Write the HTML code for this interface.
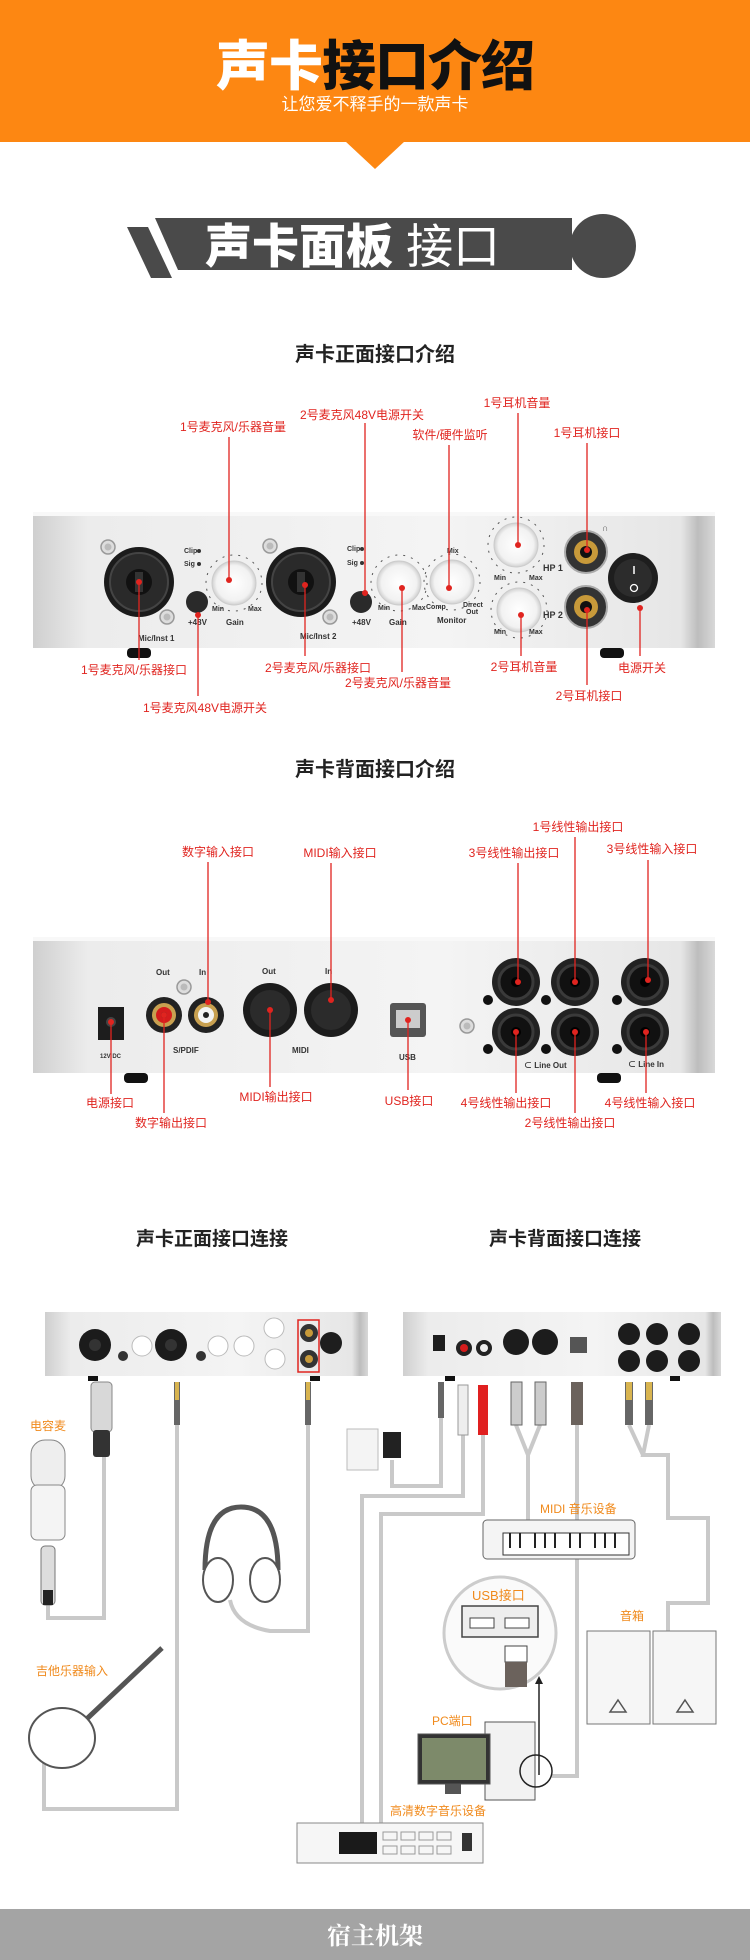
<!DOCTYPE html>
<html><head><meta charset="utf-8">
<style>
html,body{margin:0;padding:0;background:#fff;}
svg{display:block;}
text{font-family:"Liberation Sans","Noto Sans CJK SC",sans-serif;}
.r{fill:#e0241f;font-size:12px;}
.o{fill:#f08a1c;font-size:12px;}
.s{fill:#333;font-size:7px;font-weight:bold;}
.l{stroke:#e0241f;stroke-width:1.3;}
.c{stroke:#c9c9c9;stroke-width:4;fill:none;}
</style></head><body>
<svg width="750" height="1960" viewBox="0 0 750 1960" xmlns="http://www.w3.org/2000/svg">
<defs>
<linearGradient id="body" x1="0" y1="0" x2="1" y2="0">
<stop offset="0" stop-color="#cfcfcf"/><stop offset="0.08" stop-color="#ececec"/><stop offset="0.6" stop-color="#f4f4f4"/><stop offset="0.95" stop-color="#e6e6e6"/><stop offset="0.975" stop-color="#bdbdbd"/><stop offset="1" stop-color="#d8d8d8"/>
</linearGradient>
<radialGradient id="knob"><stop offset="0" stop-color="#fff"/><stop offset="0.8" stop-color="#f2f2f2"/><stop offset="1" stop-color="#d0d0d0"/></radialGradient>
<g id="xlr"><circle r="35" fill="#1b1b1b"/><circle r="29" fill="#2a2a2a" stroke="#444" stroke-width="2"/><circle r="13" fill="#111"/><rect x="-4" y="-10" width="8" height="20" fill="#333"/></g>
<g id="knb"><circle r="28" fill="none" stroke="#555" stroke-width="1" stroke-dasharray="2 6"/><circle r="22" fill="url(#knob)" stroke="#ccc"/></g>
<g id="scr"><circle r="7" fill="#ddd" stroke="#999" stroke-width="1.5"/><circle r="3.5" fill="#bbb"/></g>
<g id="jk"><circle r="24" fill="#222"/><circle r="17" fill="#111" stroke="#3a3a3a" stroke-width="3"/><circle r="5" fill="#000"/></g>
<g id="hpj"><circle r="21" fill="#333" stroke="#aaa" stroke-width="2"/><circle r="12" fill="#c89a3a"/><circle r="6" fill="#111"/></g>
</defs>

<!-- Header -->
<rect x="0" y="0" width="750" height="142" fill="#fd8712"/>
<polygon points="345,141 405,141 375,169" fill="#fd8712"/>
<text x="375" y="85" text-anchor="middle" style="font-size:54px;font-weight:900;letter-spacing:-1px"><tspan fill="#fff">声卡</tspan><tspan fill="#111">接口介绍</tspan></text>
<text x="375" y="110" text-anchor="middle" fill="#fff" style="font-size:17px">让您爱不释手的一款声卡</text>

<!-- Banner -->
<polygon points="127,227 148,227 172,278 151,278" fill="#4a4a4a"/>
<polygon points="155,218 572,218 572,270 178,270" fill="#4a4a4a"/>
<ellipse cx="603" cy="246" rx="33" ry="32" fill="#4a4a4a"/>
<text x="205" y="263" fill="#fff" style="font-size:47px;font-weight:900">声卡面板 <tspan style="font-weight:400">接口</tspan></text>

<text x="375" y="361" text-anchor="middle" fill="#222" style="font-size:20px;font-weight:bold">声卡正面接口介绍</text>

<!-- Front device -->
<rect x="33" y="512" width="682" height="136" fill="url(#body)"/>
<rect x="33" y="512" width="682" height="4" fill="#f8f8f8"/>
<rect x="127" y="648" width="24" height="10" rx="4" fill="#111"/>
<rect x="600" y="648" width="24" height="10" rx="4" fill="#111"/>
<use href="#xlr" x="139" y="582"/><use href="#scr" x="108" y="547"/><use href="#scr" x="167" y="617"/>
<text class="s" x="184" y="553">Clip</text><text class="s" x="184" y="566">Sig</text>
<circle cx="199" cy="551" r="2" fill="#333"/><circle cx="199" cy="564" r="2" fill="#333"/>
<use href="#knb" x="234" y="583"/>
<circle cx="197" cy="602" r="11" fill="#2a2a2a"/>
<text class="s" x="188" y="625" style="font-size:8px">+48V</text><text class="s" x="226" y="625" style="font-size:8px">Gain</text>
<text class="s" x="212" y="611">Min</text><text class="s" x="248" y="611">Max</text>
<text class="s" x="138" y="641" style="font-size:8px">Mic/Inst 1</text>
<use href="#xlr" x="301" y="582"/><use href="#scr" x="270" y="546"/><use href="#scr" x="330" y="617"/>
<text class="s" x="347" y="551">Clip</text><text class="s" x="347" y="565">Sig</text>
<circle cx="362" cy="549" r="2" fill="#333"/><circle cx="362" cy="563" r="2" fill="#333"/>
<circle cx="361" cy="602" r="11" fill="#2a2a2a"/>
<text class="s" x="352" y="625" style="font-size:8px">+48V</text>
<use href="#knb" x="399" y="583"/><use href="#knb" x="452" y="582"/>
<text class="s" x="389" y="625" style="font-size:8px">Gain</text><text class="s" x="437" y="623" style="font-size:8px">Monitor</text>
<text class="s" x="378" y="610">Min</text><text class="s" x="412" y="610">Max</text><text class="s" x="426" y="609">Comp</text>
<text class="s" x="447" y="553">Mix</text><text class="s" x="463" y="607">Direct</text><text class="s" x="466" y="614">Out</text>
<text class="s" x="300" y="639" style="font-size:8px">Mic/Inst 2</text>
<use href="#knb" x="516" y="545"/><use href="#knb" x="519" y="610"/>
<text class="s" x="543" y="571" style="font-size:9px">HP 1</text><text class="s" x="543" y="618" style="font-size:9px">HP 2</text>
<text class="s" x="494" y="580">Min</text><text class="s" x="529" y="580">Max</text><text class="s" x="494" y="634">Min</text><text class="s" x="529" y="634">Max</text>
<use href="#hpj" x="586" y="552"/><use href="#hpj" x="586" y="607"/>
<text x="602" y="531" fill="#555" style="font-size:9px">∩</text>
<circle cx="633" cy="578" r="25" fill="#1e1e1e"/><circle cx="633" cy="578" r="19" fill="#2c2c2c"/>
<line x1="634" y1="566" x2="634" y2="574" stroke="#fff" stroke-width="1.5"/><circle cx="634" cy="588" r="3.5" fill="none" stroke="#fff" stroke-width="1.3"/>

<!-- front labels -->
<g class="l">
<line x1="229" y1="437" x2="229" y2="580"/><line x1="365" y1="423" x2="365" y2="596"/><line x1="449" y1="445" x2="449" y2="588"/>
<line x1="518" y1="413" x2="518" y2="545"/><line x1="587" y1="443" x2="587" y2="550"/>
<line x1="139" y1="582" x2="139" y2="660"/><line x1="198" y1="615" x2="198" y2="696"/><line x1="305" y1="585" x2="305" y2="656"/>
<line x1="402" y1="588" x2="402" y2="672"/><line x1="521" y1="615" x2="521" y2="656"/><line x1="587" y1="610" x2="587" y2="685"/><line x1="640" y1="608" x2="640" y2="656"/>
</g>
<g fill="#e0241f"><circle cx="229" cy="580" r="3"/><circle cx="365" cy="593" r="3"/><circle cx="449" cy="588" r="3"/><circle cx="518" cy="545" r="3"/><circle cx="587" cy="550" r="3"/><circle cx="139" cy="582" r="3"/><circle cx="198" cy="615" r="3"/><circle cx="305" cy="585" r="3"/><circle cx="402" cy="588" r="3"/><circle cx="521" cy="615" r="3"/><circle cx="587" cy="610" r="3"/><circle cx="640" cy="608" r="3"/></g>
<text class="r" x="233" y="431" text-anchor="middle">1号麦克风/乐器音量</text>
<text class="r" x="362" y="419" text-anchor="middle">2号麦克风48V电源开关</text>
<text class="r" x="450" y="439" text-anchor="middle">软件/硬件监听</text>
<text class="r" x="517" y="407" text-anchor="middle">1号耳机音量</text>
<text class="r" x="587" y="437" text-anchor="middle">1号耳机接口</text>
<text class="r" x="134" y="674" text-anchor="middle">1号麦克风/乐器接口</text>
<text class="r" x="205" y="712" text-anchor="middle">1号麦克风48V电源开关</text>
<text class="r" x="318" y="672" text-anchor="middle">2号麦克风/乐器接口</text>
<text class="r" x="398" y="687" text-anchor="middle">2号麦克风/乐器音量</text>
<text class="r" x="524" y="671" text-anchor="middle">2号耳机音量</text>
<text class="r" x="589" y="700" text-anchor="middle">2号耳机接口</text>
<text class="r" x="642" y="672" text-anchor="middle">电源开关</text>

<text x="375" y="776" text-anchor="middle" fill="#222" style="font-size:20px;font-weight:bold">声卡背面接口介绍</text>

<!-- Back device -->
<rect x="33" y="937" width="682" height="136" fill="url(#body)"/>
<rect x="33" y="937" width="682" height="4" fill="#f8f8f8"/>
<rect x="124" y="1073" width="24" height="10" rx="4" fill="#111"/>
<rect x="597" y="1073" width="24" height="10" rx="4" fill="#111"/>
<rect x="98" y="1007" width="26" height="33" fill="#1d1d1d"/><circle cx="111" cy="1022" r="5" fill="#444"/>
<text class="s" x="100" y="1058" style="font-size:6px">12V DC</text>
<circle cx="164" cy="1015" r="18" fill="#222"/><circle cx="164" cy="1015" r="12" fill="#c8a050"/><circle cx="164" cy="1015" r="8" fill="#d51c1c"/><circle cx="164" cy="1015" r="3" fill="#222"/>
<circle cx="206" cy="1015" r="18" fill="#222"/><circle cx="206" cy="1015" r="12" fill="#c8a050"/><circle cx="206" cy="1015" r="8" fill="#f4f4f4"/><circle cx="206" cy="1015" r="3" fill="#222"/>
<use href="#scr" x="184" y="987"/>
<text class="s" x="156" y="975" style="font-size:8px">Out</text><text class="s" x="199" y="975" style="font-size:8px">In</text>
<text class="s" x="173" y="1053" style="font-size:8px">S/PDIF</text>
<circle cx="270" cy="1010" r="27" fill="#1c1c1c"/><circle cx="270" cy="1010" r="20" fill="#2b2b2b"/>
<circle cx="331" cy="1010" r="27" fill="#1c1c1c"/><circle cx="331" cy="1010" r="20" fill="#2b2b2b"/>
<text class="s" x="262" y="974" style="font-size:8px">Out</text><text class="s" x="325" y="974" style="font-size:8px">In</text>
<text class="s" x="292" y="1053" style="font-size:8px">MIDI</text>
<rect x="390" y="1003" width="36" height="34" rx="3" fill="#555"/><rect x="396" y="1010" width="24" height="18" fill="#ccc"/>
<text class="s" x="399" y="1060" style="font-size:8px">USB</text>
<use href="#scr" x="467" y="1026"/>
<use href="#jk" x="516" y="982"/><use href="#jk" x="575" y="982"/><use href="#jk" x="645" y="982"/>
<use href="#jk" x="516" y="1032"/><use href="#jk" x="575" y="1032"/><use href="#jk" x="645" y="1032"/>
<g fill="#111"><circle cx="488" cy="1000" r="5"/><circle cx="546" cy="1000" r="5"/><circle cx="617" cy="1000" r="5"/><circle cx="488" cy="1049" r="5"/><circle cx="546" cy="1049" r="5"/><circle cx="617" cy="1049" r="5"/></g>
<text class="s" x="524" y="1068" style="font-size:8px">⊂ Line Out</text><text class="s" x="628" y="1067" style="font-size:8px">⊂ Line In</text>

<g class="l">
<line x1="208" y1="862" x2="208" y2="1002"/><line x1="331" y1="863" x2="331" y2="1000"/><line x1="575" y1="837" x2="575" y2="982"/>
<line x1="518" y1="863" x2="518" y2="982"/><line x1="648" y1="860" x2="648" y2="980"/>
<line x1="111" y1="1022" x2="111" y2="1094"/><line x1="164" y1="1015" x2="164" y2="1113"/><line x1="270" y1="1010" x2="270" y2="1087"/>
<line x1="408" y1="1020" x2="408" y2="1090"/><line x1="516" y1="1032" x2="516" y2="1093"/><line x1="575" y1="1032" x2="575" y2="1113"/><line x1="646" y1="1032" x2="646" y2="1093"/>
</g>
<g fill="#e0241f"><circle cx="208" cy="1002" r="3"/><circle cx="331" cy="1000" r="3"/><circle cx="575" cy="982" r="3"/><circle cx="518" cy="982" r="3"/><circle cx="648" cy="980" r="3"/><circle cx="111" cy="1022" r="3"/><circle cx="164" cy="1015" r="3"/><circle cx="270" cy="1010" r="3"/><circle cx="408" cy="1020" r="3"/><circle cx="516" cy="1032" r="3"/><circle cx="575" cy="1032" r="3"/><circle cx="646" cy="1032" r="3"/></g>
<text class="r" x="218" y="856" text-anchor="middle">数字输入接口</text>
<text class="r" x="340" y="857" text-anchor="middle">MIDI输入接口</text>
<text class="r" x="578" y="831" text-anchor="middle">1号线性输出接口</text>
<text class="r" x="514" y="857" text-anchor="middle">3号线性输出接口</text>
<text class="r" x="652" y="853" text-anchor="middle">3号线性输入接口</text>
<text class="r" x="110" y="1107" text-anchor="middle">电源接口</text>
<text class="r" x="171" y="1127" text-anchor="middle">数字输出接口</text>
<text class="r" x="276" y="1101" text-anchor="middle">MIDI输出接口</text>
<text class="r" x="409" y="1105" text-anchor="middle">USB接口</text>
<text class="r" x="506" y="1107" text-anchor="middle">4号线性输出接口</text>
<text class="r" x="570" y="1127" text-anchor="middle">2号线性输出接口</text>
<text class="r" x="650" y="1107" text-anchor="middle">4号线性输入接口</text>

<!-- Connection section -->
<text x="212" y="1245" text-anchor="middle" fill="#222" style="font-size:19px;font-weight:bold">声卡正面接口连接</text>
<text x="565" y="1245" text-anchor="middle" fill="#222" style="font-size:19px;font-weight:bold">声卡背面接口连接</text>

<!-- cables -->
<path class="c" d="M48,1605 V1618 H104 V1457"/>
<path class="c" d="M177,1425 V1809 H44 V1760"/>
<path class="c" d="M308,1425 V1631 H270 Q235,1625 230,1600"/>
<path class="c" d="M441,1418 V1486 H392 V1460"/>
<path class="c" d="M463,1435 V1496 H362 V1823"/>
<path class="c" d="M483,1435 V1514 H381 V1823"/>
<path class="c" d="M516,1425 L528,1455 V1520 M540,1425 L528,1455"/>
<path class="c" d="M577,1425 V1776 H552"/>
<path class="c" d="M629,1425 L643,1455 M649,1425 L643,1455 H668 V1518 H708 V1603 H668 V1631"/>

<!-- small front device -->
<rect x="45" y="1312" width="323" height="64" fill="url(#body)"/>
<circle cx="95" cy="1345" r="16" fill="#1b1b1b"/><circle cx="95" cy="1345" r="6" fill="#333"/>
<circle cx="171" cy="1345" r="16" fill="#1b1b1b"/><circle cx="171" cy="1345" r="6" fill="#333"/>
<circle cx="123" cy="1356" r="5" fill="#333"/><circle cx="201" cy="1356" r="5" fill="#333"/>
<circle cx="142" cy="1346" r="10" fill="#fff" stroke="#bbb"/><circle cx="218" cy="1346" r="10" fill="#fff" stroke="#bbb"/><circle cx="244" cy="1346" r="10" fill="#fff" stroke="#bbb"/>
<circle cx="274" cy="1328" r="10" fill="#fff" stroke="#bbb"/><circle cx="275" cy="1359" r="10" fill="#fff" stroke="#bbb"/>
<circle cx="309" cy="1333" r="9" fill="#333"/><circle cx="309" cy="1359" r="9" fill="#333"/><circle cx="309" cy="1333" r="4" fill="#c89a3a"/><circle cx="309" cy="1359" r="4" fill="#c89a3a"/>
<rect x="298" y="1320" width="21" height="52" fill="none" stroke="#e0241f" stroke-width="1.5"/>
<circle cx="331" cy="1343" r="11" fill="#1e1e1e"/>
<rect x="88" y="1376" width="10" height="5" fill="#111"/><rect x="310" y="1376" width="10" height="5" fill="#111"/>
<!-- small back device -->
<rect x="403" y="1312" width="318" height="64" fill="url(#body)"/>
<rect x="433" y="1335" width="12" height="16" fill="#1d1d1d"/>
<circle cx="464" cy="1348" r="8" fill="#222"/><circle cx="464" cy="1348" r="4" fill="#d51c1c"/>
<circle cx="484" cy="1348" r="8" fill="#222"/><circle cx="484" cy="1348" r="4" fill="#eee"/>
<circle cx="516" cy="1342" r="13" fill="#1c1c1c"/><circle cx="545" cy="1342" r="13" fill="#1c1c1c"/>
<rect x="570" y="1337" width="17" height="16" fill="#555"/>
<g fill="#1c1c1c"><circle cx="629" cy="1334" r="11"/><circle cx="657" cy="1334" r="11"/><circle cx="689" cy="1334" r="11"/><circle cx="629" cy="1361" r="11"/><circle cx="657" cy="1361" r="11"/><circle cx="689" cy="1361" r="11"/></g>
<rect x="445" y="1376" width="10" height="5" fill="#111"/><rect x="670" y="1376" width="10" height="5" fill="#111"/>

<!-- plugs -->
<rect x="91" y="1382" width="21" height="50" rx="4" fill="#d8d8d8" stroke="#888"/><rect x="93" y="1430" width="17" height="27" rx="3" fill="#333"/>
<g fill="#666"><rect x="174" y="1382" width="6" height="43"/><rect x="305" y="1382" width="6" height="43"/><rect x="438" y="1382" width="6" height="36"/><rect x="625" y="1382" width="8" height="43"/><rect x="645" y="1382" width="8" height="43"/></g>
<rect x="175" y="1382" width="4" height="18" fill="#d8b450"/><rect x="306" y="1382" width="4" height="18" fill="#d8b450"/><rect x="626" y="1382" width="6" height="18" fill="#d8b450"/><rect x="646" y="1382" width="6" height="18" fill="#d8b450"/>
<rect x="458" y="1385" width="10" height="50" fill="#eee" stroke="#999"/><rect x="478" y="1385" width="10" height="50" fill="#e02020"/>
<rect x="511" y="1382" width="11" height="43" fill="#ccc" stroke="#666"/><rect x="535" y="1382" width="11" height="43" fill="#ccc" stroke="#666"/>
<rect x="571" y="1382" width="12" height="43" fill="#6b625c"/>
<rect x="347" y="1429" width="31" height="41" fill="#f4f4f4" stroke="#bbb"/><rect x="383" y="1432" width="18" height="26" fill="#222"/>

<!-- mic -->
<text class="o" x="30" y="1430">电容麦</text>
<rect x="31" y="1440" width="34" height="50" rx="14" fill="#eee" stroke="#888"/>
<rect x="31" y="1485" width="34" height="55" rx="6" fill="#f4f4f4" stroke="#888"/>
<rect x="41" y="1546" width="14" height="59" rx="4" fill="#ddd" stroke="#777"/><rect x="43" y="1590" width="10" height="15" fill="#222"/>
<!-- headphones -->
<path d="M205,1570 Q205,1507 241,1507 Q278,1507 278,1570" fill="none" stroke="#555" stroke-width="5"/>
<ellipse cx="218" cy="1580" rx="15" ry="22" fill="#fff" stroke="#555" stroke-width="2"/>
<ellipse cx="265" cy="1580" rx="15" ry="22" fill="#fff" stroke="#555" stroke-width="2"/>
<!-- guitar -->
<text class="o" x="36" y="1675">吉他乐器输入</text>
<line x1="75" y1="1730" x2="162" y2="1648" stroke="#555" stroke-width="5"/>
<ellipse cx="62" cy="1738" rx="33" ry="30" fill="#fff" stroke="#555" stroke-width="2"/>
<!-- keyboard -->
<text class="o" x="540" y="1513">MIDI 音乐设备</text>
<rect x="483" y="1520" width="152" height="39" rx="4" fill="#f4f4f4" stroke="#666"/>
<rect x="503" y="1533" width="126" height="22" fill="#fff" stroke="#333"/>
<g stroke="#222" stroke-width="2"><line x1="510" y1="1533" x2="510" y2="1548"/><line x1="520" y1="1533" x2="520" y2="1548"/><line x1="535" y1="1533" x2="535" y2="1548"/><line x1="545" y1="1533" x2="545" y2="1548"/><line x1="555" y1="1533" x2="555" y2="1548"/><line x1="570" y1="1533" x2="570" y2="1548"/><line x1="580" y1="1533" x2="580" y2="1548"/><line x1="595" y1="1533" x2="595" y2="1548"/><line x1="605" y1="1533" x2="605" y2="1548"/><line x1="615" y1="1533" x2="615" y2="1548"/></g>
<!-- USB circle -->
<circle cx="500" cy="1633" r="56" fill="#fafafa" stroke="#ccc" stroke-width="3"/>
<text class="o" x="472" y="1600" style="font-size:13px">USB接口</text>
<rect x="462" y="1606" width="76" height="31" fill="#eee" stroke="#444" stroke-width="1.5"/>
<rect x="470" y="1618" width="24" height="10" fill="#fff" stroke="#444"/><rect x="505" y="1618" width="24" height="10" fill="#fff" stroke="#444"/>
<rect x="505" y="1646" width="22" height="16" fill="#fff" stroke="#444"/><rect x="505" y="1662" width="22" height="25" fill="#6b625c"/>
<line x1="539" y1="1775" x2="539" y2="1682" stroke="#222" stroke-width="1.5"/><polygon points="535,1684 543,1684 539,1676" fill="#222"/>
<!-- PC -->
<text class="o" x="432" y="1725">PC端口</text>
<rect x="485" y="1722" width="50" height="78" fill="#f2f2f2" stroke="#555"/>
<rect x="418" y="1734" width="72" height="50" fill="#333" stroke="#555"/><rect x="422" y="1738" width="64" height="42" fill="#7d8a6a"/>
<rect x="445" y="1784" width="16" height="10" fill="#555"/>
<circle cx="536" cy="1771" r="16" fill="none" stroke="#222" stroke-width="1.5"/>
<!-- speakers -->
<text class="o" x="620" y="1620">音箱</text>
<rect x="587" y="1631" width="63" height="93" fill="#f6f6f6" stroke="#777"/><rect x="653" y="1631" width="63" height="93" fill="#f6f6f6" stroke="#777"/>
<polygon points="618,1700 626,1712 610,1712" fill="none" stroke="#555" stroke-width="1.5"/><polygon points="685,1700 693,1712 677,1712" fill="none" stroke="#555" stroke-width="1.5"/>
<!-- rack device -->
<text class="o" x="390" y="1815">高清数字音乐设备</text>
<rect x="297" y="1823" width="186" height="40" fill="#f6f6f6" stroke="#888"/>
<rect x="339" y="1832" width="38" height="22" fill="#1a1a1a"/>
<g fill="none" stroke="#999"><rect x="383" y="1832" width="14" height="8"/><rect x="401" y="1832" width="14" height="8"/><rect x="419" y="1832" width="14" height="8"/><rect x="437" y="1832" width="14" height="8"/><rect x="383" y="1846" width="14" height="8"/><rect x="401" y="1846" width="14" height="8"/><rect x="419" y="1846" width="14" height="8"/><rect x="437" y="1846" width="14" height="8"/></g>
<rect x="462" y="1833" width="10" height="18" fill="#333"/>

<!-- footer -->
<rect x="0" y="1909" width="750" height="51" fill="#a4a4a4"/>
<text x="375" y="1944" text-anchor="middle" fill="#fff" style="font-family:'Liberation Serif','Noto Serif CJK SC',serif;font-size:24px;font-weight:bold">宿主机架</text>
</svg>
</body></html>
